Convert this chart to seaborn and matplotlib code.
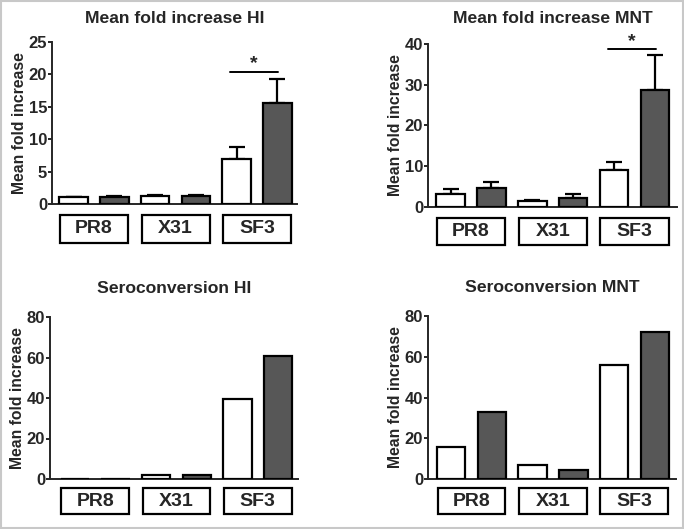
import matplotlib
matplotlib.use("Agg")
import matplotlib.pyplot as plt
import matplotlib.transforms as mtransforms
from matplotlib.patches import Rectangle
import seaborn as sns
import pandas as pd

sns.set_style("ticks")
plt.rcParams['font.family'] = ['Liberation Sans', 'DejaVu Sans']
plt.rcParams['font.weight'] = 'bold'

# ---- data ----
categories = ["PR8", "X31", "SF3"]
groups = ["Group 1", "Group 2"]

mfi_hi_white = [1.05, 1.3, 7.0]
mfi_hi_dark = [1.1, 1.3, 15.6]
mfi_hi_white_err = [0.1, 0.1, 1.8]
mfi_hi_dark_err = [0.1, 0.1, 3.7]

mfi_mnt_white = [3.2, 1.4, 9.1]
mfi_mnt_dark = [4.6, 2.1, 28.7]
mfi_mnt_white_err = [1.3, 0.2, 2.0]
mfi_mnt_dark_err = [1.45, 1.0, 8.7]

sc_hi_white = [0.0, 2.1, 39.7]
sc_hi_dark = [0.0, 2.1, 60.7]

sc_mnt_white = [15.8, 6.9, 55.8]
sc_mnt_dark = [33.0, 4.6, 72.2]

titles = ["Mean fold increase HI", "Mean fold increase MNT",
          "Seroconversion HI", "Seroconversion MNT"]
ylabel = "Mean fold increase"
yticks_list = [[0, 5, 10, 15, 20, 25], [0, 10, 20, 30, 40],
               [0, 20, 40, 60, 80], [0, 20, 40, 60, 80]]

colors = ["white", "#575757"]

W, H = 684, 529
fig = plt.figure(figsize=(W / 100, H / 100), dpi=100)
fig.patch.set_facecolor("white")

def ax_at(left, right, top, bottom):
    return fig.add_axes([left / W, (H - bottom) / H, (right - left) / W, (bottom - top) / H])

# axes pixel boxes: left, right, top(ymax), bottom(y0)
boxes = [(52, 297, 42, 204), (428, 677, 44, 207), (50, 298, 317, 479), (428, 676, 316, 479)]
xlims = [(-0.515, 2.49), (-0.526, 2.52), (-0.557, 2.495), (-0.534, 2.51)]
box_y = [(-0.068, -0.24), (-0.067, -0.233), (-0.056, -0.216), (-0.056, -0.216)]
title_pads = [14, 15, 17, 17]
label_pads = [1, 1.5, 1, 1.5]

panels = [
    (mfi_hi_white, mfi_hi_dark, mfi_hi_white_err, mfi_hi_dark_err),
    (mfi_mnt_white, mfi_mnt_dark, mfi_mnt_white_err, mfi_mnt_dark_err),
    (sc_hi_white, sc_hi_dark, None, None),
    (sc_mnt_white, sc_mnt_dark, None, None),
]

sig = [(20.4, 1.67, 2.26, 20.4), (38.8, 1.68, 2.26, 38.6), None, None]

for i, (wv, dv, we, de) in enumerate(panels):
    ax = ax_at(*boxes[i])
    df = pd.DataFrame({
        "category": categories * 2,
        "group": [groups[0]] * 3 + [groups[1]] * 3,
        "value": list(wv) + list(dv),
    })
    sns.barplot(data=df, x="category", y="value", hue="group", order=categories,
                hue_order=groups, palette=colors, edgecolor="black", linewidth=1.6,
                width=1.0, gap=0.3, errorbar=None, legend=False, ax=ax, zorder=3)
    # error bars (upper only)
    if we is not None:
        for cont, errs in zip(ax.containers, [we, de]):
            xs = [p.get_x() + p.get_width() / 2 for p in cont.patches]
            ys = [p.get_height() for p in cont.patches]
            ax.errorbar(xs, ys, yerr=[[0] * len(errs), errs], fmt="none",
                        ecolor="black", elinewidth=1.6, capsize=5.5, capthick=1.6,
                        zorder=2)
    yt = yticks_list[i]
    ax.set_ylim(0, yt[-1])
    ax.set_yticks(yt)
    ax.set_xlim(*xlims[i])
    ax.set_xticks([])
    ax.set_xlabel("")
    ax.set_ylabel(ylabel, fontsize=11.3, fontweight="bold", labelpad=label_pads[i])
    ax.set_title(titles[i], fontsize=12.6, fontweight="bold", pad=title_pads[i])
    for s in ["top", "right"]:
        ax.spines[s].set_visible(False)
    for s in ["left", "bottom"]:
        ax.spines[s].set_linewidth(1.4)
    ax.tick_params(axis="y", direction="out", length=3, width=1.4, labelsize=12, pad=0.5)
    for lab in ax.get_yticklabels():
        lab.set_fontweight("bold")
    ax.set_facecolor("white")
    # category boxes
    trans = mtransforms.blended_transform_factory(ax.transData, ax.transAxes)
    y1, y2 = box_y[i]
    for j, cat in enumerate(categories):
        r = Rectangle((j - 0.417, y2), 0.834, y1 - y2, transform=trans,
                      facecolor="white", edgecolor="black", linewidth=1.6, clip_on=False)
        ax.add_patch(r)
        ax.text(j, (y1 + y2) / 2, cat, transform=trans, ha="center", va="center",
                fontsize=14, fontweight="bold")
    # significance
    if sig[i] is not None:
        yl, x1, x2, ys = sig[i]
        ax.plot([x1, x2], [yl, yl], color="black", lw=1.4, clip_on=False)
        ax.text((x1 + x2) / 2, ys, "*", ha="center", va="bottom", fontsize=14,
                fontweight="bold")

# outer light-gray frame
fig.patches.append(Rectangle((0.001, 0.001), 0.997, 0.997, transform=fig.transFigure,
                             fill=False, edgecolor="#c8c8c8", linewidth=1.5))

fig.savefig("out.png", dpi=100, facecolor="white")
